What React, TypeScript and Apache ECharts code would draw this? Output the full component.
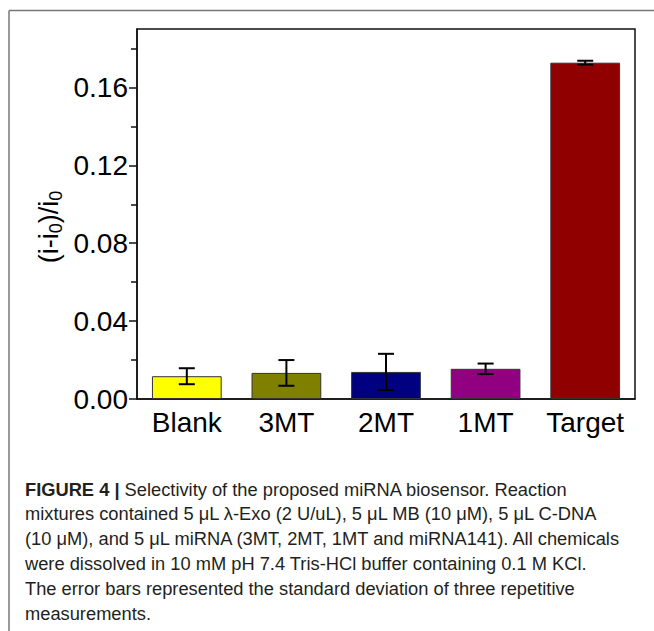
import React, { useEffect, useRef } from "react";
import * as echarts from "echarts";

const categories = ["Blank", "3MT", "2MT", "1MT", "Target"];
const values = [0.0117, 0.0134, 0.0139, 0.0155, 0.1727];
const errors = [0.0041, 0.0066, 0.0093, 0.0027, 0.001];
const barColors = ["#FFFF00", "#808000", "#000080", "#900080", "#900000"];
const yMajorTicks = [0, 0.04, 0.08, 0.12, 0.16];
const yMinorTicks = [0.02, 0.06, 0.1, 0.14, 0.18];
const yLabels = ["0.00", "0.04", "0.08", "0.12", "0.16"];
const captionLines = [
  "{b|FIGURE 4 |} Selectivity of the proposed miRNA biosensor. Reaction",
  "mixtures contained 5 μL λ-Exo (2 U/uL), 5 μL MB (10 μM), 5 μL C-DNA",
  "(10 μM), and 5 μL miRNA (3MT, 2MT, 1MT and miRNA141). All chemicals",
  "were dissolved in 10 mM pH 7.4 Tris-HCl buffer containing 0.1 M KCl.",
  "The error bars represented the standard deviation of three repetitive",
  "measurements.",
];

const FONT = "'Liberation Sans', Arial, sans-serif";

export default function App() {
  const ref = useRef<HTMLDivElement>(null);
  useEffect(() => {
    if (!ref.current) return;
    const chart = echarts.init(ref.current, undefined, { renderer: "svg" });
    const errData = categories.map((c, i) => [i, values[i], errors[i]]);
    const option: any = {
      animation: false,
      backgroundColor: "#ffffff",
      grid: {
        left: 137,
        right: 19,
        top: 29,
        bottom: 232,
        show: true,
        borderColor: "#111",
        borderWidth: 1.5,
        backgroundColor: "transparent",
      },
      xAxis: {
        type: "category",
        data: categories,
        axisLine: { show: true, lineStyle: { color: "#111", width: 1.5 } },
        axisTick: { show: false },
        axisLabel: {
          color: "#000",
          fontSize: 28,
          fontFamily: FONT,
          margin: 9,
          interval: 0,
          hideOverlap: false,
        },
        splitLine: { show: false },
      },
      yAxis: [
        {
          type: "value",
          min: 0,
          max: 0.19,
          axisLine: { show: true, lineStyle: { color: "#111", width: 1.5 } },
          axisTick: {
            show: true,
            inside: false,
            length: 8,
            lineStyle: { color: "#111", width: 1.5 },
            customValues: yMajorTicks,
          },
          axisLabel: {
            color: "#000",
            fontSize: 28,
            fontFamily: FONT,
            margin: 9,
            customValues: yMajorTicks,
            formatter: (v: number) => {
              const idx = yMajorTicks.findIndex((t) => Math.abs(t - v) < 1e-9);
              return idx >= 0 ? yLabels[idx] : "";
            },
          },
          splitLine: { show: false },
        },
        {
          type: "value",
          min: 0,
          max: 0.19,
          position: "left",
          axisLine: { show: false },
          axisTick: {
            show: true,
            inside: false,
            length: 6,
            lineStyle: { color: "#111", width: 1.5 },
            customValues: yMinorTicks,
          },
          axisLabel: { show: false },
          splitLine: { show: false },
        },
      ],
      graphic: [
        {
          type: "line",
          shape: { x1: 9, y1: 10.5, x2: 654, y2: 10.5 },
          style: { stroke: "#777", lineWidth: 1.5 },
        },
        {
          type: "line",
          shape: { x1: 9, y1: 10.5, x2: 9, y2: 631 },
          style: { stroke: "#777", lineWidth: 1.5 },
        },
        {
          type: "text",
          x: 49,
          y: 227,
          rotation: Math.PI / 2,
          style: {
            text: "(i-i{s|0})/i{s|0}",
            fontSize: 27,
            fontFamily: FONT,
            fill: "#000",
            align: "center",
            verticalAlign: "middle",
            rich: {
              s: { fontSize: 18, fontFamily: FONT, fill: "#000", padding: [14, 0, 0, 0] },
            },
          },
        },
        ...captionLines.map((line, k) => ({
          type: "text",
          x: 25,
          y: 489 + 24.8 * k,
          style: {
            text: line,
            fontSize: 18.3,
            fontFamily: FONT,
            fill: "#231f20",
            align: "left",
            verticalAlign: "middle",
            rich: {
              b: { fontSize: 18.3, fontFamily: FONT, fontWeight: "bold", fill: "#231f20" },
            },
          },
        })),
      ],
      series: [
        {
          type: "bar",
          data: values.map((v, i) => ({
            value: v,
            itemStyle: { color: barColors[i], borderColor: "#333", borderWidth: 1 },
          })),
          barCategoryGap: "30%",
          z: 2,
        },
        {
          type: "custom",
          z: 5,
          data: errData,
          renderItem: (params: any, api: any) => {
            const x = api.value(0);
            const v = api.value(1);
            const e = api.value(2);
            const top = api.coord([x, v + e]);
            const bot = api.coord([x, v - e]);
            const hw = 8;
            const st = { stroke: "#000", lineWidth: 2 };
            return {
              type: "group",
              children: [
                { type: "line", shape: { x1: top[0], y1: top[1], x2: bot[0], y2: bot[1] }, style: st },
                { type: "line", shape: { x1: top[0] - hw, y1: top[1], x2: top[0] + hw, y2: top[1] }, style: st },
                { type: "line", shape: { x1: bot[0] - hw, y1: bot[1], x2: bot[0] + hw, y2: bot[1] }, style: st },
              ],
            };
          },
        },
      ],
    };
    chart.setOption(option);
    return () => chart.dispose();
  }, []);
  return (
    <div
      ref={ref}
      style={{ position: "absolute", left: 0, top: 0, width: 654, height: 631 }}
    />
  );
}
